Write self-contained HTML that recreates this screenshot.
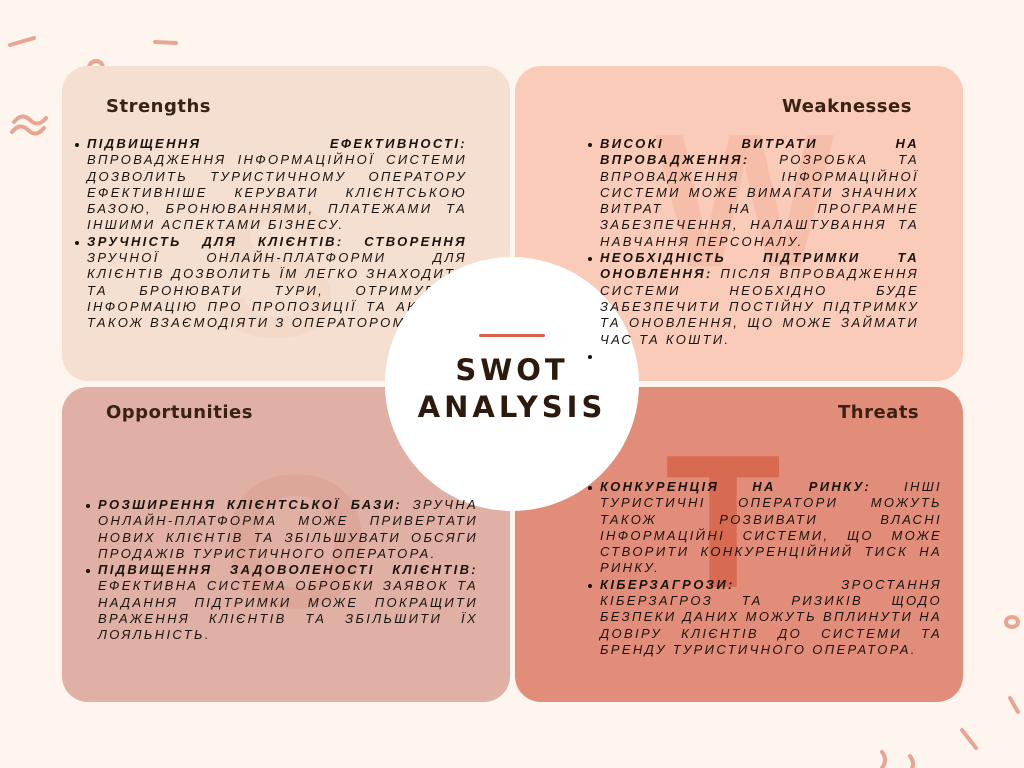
<!DOCTYPE html>
<html><head><meta charset="utf-8"><style>
*{margin:0;padding:0;box-sizing:border-box}
body{width:1024px;height:768px;background:#fdf5ee;position:relative;overflow:hidden;font-family:"Liberation Sans","DejaVu Sans",sans-serif}
.panel{position:absolute;width:448px;height:315px;border-radius:26px;overflow:hidden}
.title{position:absolute;font-family:"DejaVu Sans","Liberation Sans",sans-serif;font-weight:bold;font-size:18px;color:#3a2212;letter-spacing:0.5px}
.wm{position:absolute;font-family:"Liberation Sans",sans-serif;font-weight:bold;font-size:190px;line-height:1}
ul{position:absolute;list-style:none;font-style:italic;font-size:13px;line-height:16.3px;letter-spacing:2.35px;color:#1a1410;text-align:justify}
li{position:relative}
li::before{content:"";position:absolute;left:-12px;top:7px;width:4px;height:4px;border-radius:50%;background:#1a1410}
b{font-weight:bold}
.circle{position:absolute;left:385px;top:257px;width:254px;height:254px;border-radius:50%;background:#fff}
</style></head><body>
<svg style="position:absolute;left:0;top:0" width="1024" height="768">
<g stroke="#eaa592" stroke-width="4" fill="none" stroke-linecap="round">
<path d="M10 45 L34 38"/><path d="M155 42 L176 43"/><circle cx="96" cy="68" r="7"/>
<path d="M12 132 q8 -10 16 -2 q8 8 16 -2"/><path d="M14 122 q8 -10 16 -2 q8 8 16 -2"/>
<path d="M962 730 L976 748"/><path d="M882 752 q6 8 0 16"/><path d="M910 756 q6 8 0 16"/>
<path d="M1010 698 L1018 712"/><rect x="931" y="652" width="14" height="10" transform="rotate(30 938 657)"/>
<ellipse cx="1012" cy="622" rx="6" ry="5"/><path d="M840 693 L858 694"/>
</g></svg>
<div class="panel" style="left:62px;top:66px;background:#f5dfd0">
<div class="wm" style="left:150px;top:110px;color:#f3d9c8">S</div></div>
<div class="panel" style="left:515px;top:66px;background:#f9cbb8">
<div class="wm" style="left:140px;top:40px;color:#f6bea9">W</div></div>
<div class="panel" style="left:62px;top:387px;background:#dfb0a3">
<div class="wm" style="left:160px;top:60px;color:#dca799">O</div></div>
<div class="panel" style="left:515px;top:387px;background:#e28d79">
<div class="wm" style="left:150px;top:40px;color:#d96a52">T</div></div>

<div class="title" style="left:106px;top:96px">Strengths</div>
<div class="title" style="left:782px;top:96px">Weaknesses</div>
<div class="title" style="left:106px;top:402px">Opportunities</div>
<div class="title" style="left:838px;top:402px">Threats</div>

<ul style="left:87px;top:136px;width:380px">
<li><b>ПІДВИЩЕННЯ ЕФЕКТИВНОСТІ:</b> ВПРОВАДЖЕННЯ ІНФОРМАЦІЙНОЇ СИСТЕМИ ДОЗВОЛИТЬ ТУРИСТИЧНОМУ ОПЕРАТОРУ ЕФЕКТИВНІШЕ КЕРУВАТИ КЛІЄНТСЬКОЮ БАЗОЮ, БРОНЮВАННЯМИ, ПЛАТЕЖАМИ ТА ІНШИМИ АСПЕКТАМИ БІЗНЕСУ.</li>
<li><b>ЗРУЧНІСТЬ ДЛЯ КЛІЄНТІВ: СТВОРЕННЯ</b> ЗРУЧНОЇ ОНЛАЙН-ПЛАТФОРМИ ДЛЯ КЛІЄНТІВ ДОЗВОЛИТЬ ЇМ ЛЕГКО ЗНАХОДИТИ ТА БРОНЮВАТИ ТУРИ, ОТРИМУВАТИ ІНФОРМАЦІЮ ПРО ПРОПОЗИЦІЇ ТА АКЦІЇ, А ТАКОЖ ВЗАЄМОДІЯТИ З ОПЕРАТОРОМ.</li>
</ul>
<div class="circle"></div>
<ul style="left:600px;top:136px;width:319px">
<li><b>ВИСОКІ ВИТРАТИ НА ВПРОВАДЖЕННЯ:</b> РОЗРОБКА ТА ВПРОВАДЖЕННЯ ІНФОРМАЦІЙНОЇ СИСТЕМИ МОЖЕ ВИМАГАТИ ЗНАЧНИХ ВИТРАТ НА ПРОГРАМНЕ ЗАБЕЗПЕЧЕННЯ, НАЛАШТУВАННЯ ТА НАВЧАННЯ ПЕРСОНАЛУ.</li>
<li><b>НЕОБХІДНІСТЬ ПІДТРИМКИ ТА ОНОВЛЕННЯ:</b> ПІСЛЯ ВПРОВАДЖЕННЯ СИСТЕМИ НЕОБХІДНО БУДЕ ЗАБЕЗПЕЧИТИ ПОСТІЙНУ ПІДТРИМКУ ТА ОНОВЛЕННЯ, ЩО МОЖЕ ЗАЙМАТИ ЧАС ТА КОШТИ.</li>
<li>&nbsp;</li>
</ul>
<ul style="left:98px;top:497px;width:380px">
<li><b>РОЗШИРЕННЯ КЛІЄНТСЬКОЇ БАЗИ:</b> ЗРУЧНА ОНЛАЙН-ПЛАТФОРМА МОЖЕ ПРИВЕРТАТИ НОВИХ КЛІЄНТІВ ТА ЗБІЛЬШУВАТИ ОБСЯГИ ПРОДАЖІВ ТУРИСТИЧНОГО ОПЕРАТОРА.</li>
<li><b>ПІДВИЩЕННЯ ЗАДОВОЛЕНОСТІ КЛІЄНТІВ:</b> ЕФЕКТИВНА СИСТЕМА ОБРОБКИ ЗАЯВОК ТА НАДАННЯ ПІДТРИМКИ МОЖЕ ПОКРАЩИТИ ВРАЖЕННЯ КЛІЄНТІВ ТА ЗБІЛЬШИТИ ЇХ ЛОЯЛЬНІСТЬ.</li>
</ul>
<ul style="left:600px;top:479px;width:342px">
<li><b>КОНКУРЕНЦІЯ НА РИНКУ:</b> ІНШІ ТУРИСТИЧНІ ОПЕРАТОРИ МОЖУТЬ ТАКОЖ РОЗВИВАТИ ВЛАСНІ ІНФОРМАЦІЙНІ СИСТЕМИ, ЩО МОЖЕ СТВОРИТИ КОНКУРЕНЦІЙНИЙ ТИСК НА РИНКУ.</li>
<li><b>КІБЕРЗАГРОЗИ:</b> ЗРОСТАННЯ КІБЕРЗАГРОЗ ТА РИЗИКІВ ЩОДО БЕЗПЕКИ ДАНИХ МОЖУТЬ ВПЛИНУТИ НА ДОВІРУ КЛІЄНТІВ ДО СИСТЕМИ ТА БРЕНДУ ТУРИСТИЧНОГО ОПЕРАТОРА.</li>
</ul>
<div style="position:absolute;left:479px;top:334px;width:66px;height:3px;background:#d9604a;border-radius:2px"></div>
<div style="position:absolute;left:385px;top:352px;width:254px;text-align:center;font-family:'DejaVu Sans',sans-serif;font-weight:bold;font-size:29px;line-height:37px;letter-spacing:4px;color:#2e1a0c">SWOT<br>ANALYSIS</div>
</body></html>
